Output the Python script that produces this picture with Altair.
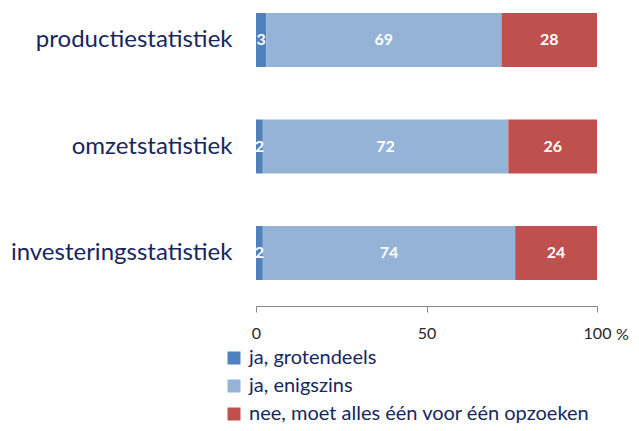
import altair as alt
import pandas as pd

categories = ["productiestatistiek", "omzetstatistiek", "investeringsstatistiek"]
series = ["ja, grotendeels", "ja, enigszins", "nee, moet alles één voor één opzoeken"]
grotendeels = [3, 2, 2]
enigszins = [69, 72, 74]
nee = [28, 26, 24]
colors = ["#4F81BD", "#95B3D7", "#C0504D"]

rows = []
for i, c in enumerate(categories):
    for j, (s, v) in enumerate(zip(series, [grotendeels[i], enigszins[i], nee[i]])):
        rows.append({"cat": c, "series": s, "order": j, "value": v})
df = pd.DataFrame(rows)

FONT = "Lato"
NAVY = "#17275E"

base = alt.Chart(df).transform_stack(
    stack="value", groupby=["cat"], as_=["x0", "x1"], sort=[alt.SortField("order")]
).transform_calculate(mid="(datum.x0 + datum.x1) / 2")

y = alt.Y("cat:N", sort=categories, title=None,
          scale=alt.Scale(paddingInner=0.493, paddingOuter=0.047),
          axis=alt.Axis(domain=False, ticks=False, labelPadding=24, labelFontSize=24,
                        labelFont=FONT, labelColor=NAVY, labelAlign="right", labelLimit=400))

bars = base.mark_bar().encode(
    y=y,
    x=alt.X("x0:Q", scale=alt.Scale(domain=[0, 100], nice=False),
            axis=alt.Axis(values=[0, 50, 100], grid=False, tickSize=6, offset=21,
                          domainColor="#868686", tickColor="#868686", labelFlush=False,
                          labelFont=FONT, labelFontSize=16, labelColor="#262626",
                          labelPadding=13, title="%", titleFont=FONT, titleFontSize=16,
                          titleFontWeight="normal", titleColor="#262626",
                          titleX=366, titleY=28, titleBaseline="middle", titleAlign="center")),
    x2="x1:Q",
    color=alt.Color("series:N", sort=series, scale=alt.Scale(domain=series, range=colors),
                    legend=alt.Legend(title=None, orient="none", legendX=-32, legendY=340,
                                      symbolType="square", symbolSize=169, symbolStrokeWidth=0,
                                      labelFont=FONT, labelFontSize=20, labelColor=NAVY,
                                      labelLimit=500, rowPadding=8, labelOffset=5)),
    order=alt.Order("order:Q"),
)

texts = base.mark_text(color="white", fontWeight="bold", fontSize=16, font=FONT).encode(
    y=alt.Y("cat:N", sort=categories),
    x=alt.X("mid:Q"),
    text=alt.Text("value:Q"),
)

chart = alt.layer(bars, texts).properties(
    width=341, height=277,
    autosize=alt.AutoSizeParams(type="none"),
    padding={"left": 248, "top": 0, "right": 34, "bottom": 138},
).configure_view(stroke=None)

chart.save("out.html", embed_options={"renderer": "svg", "actions": False})
